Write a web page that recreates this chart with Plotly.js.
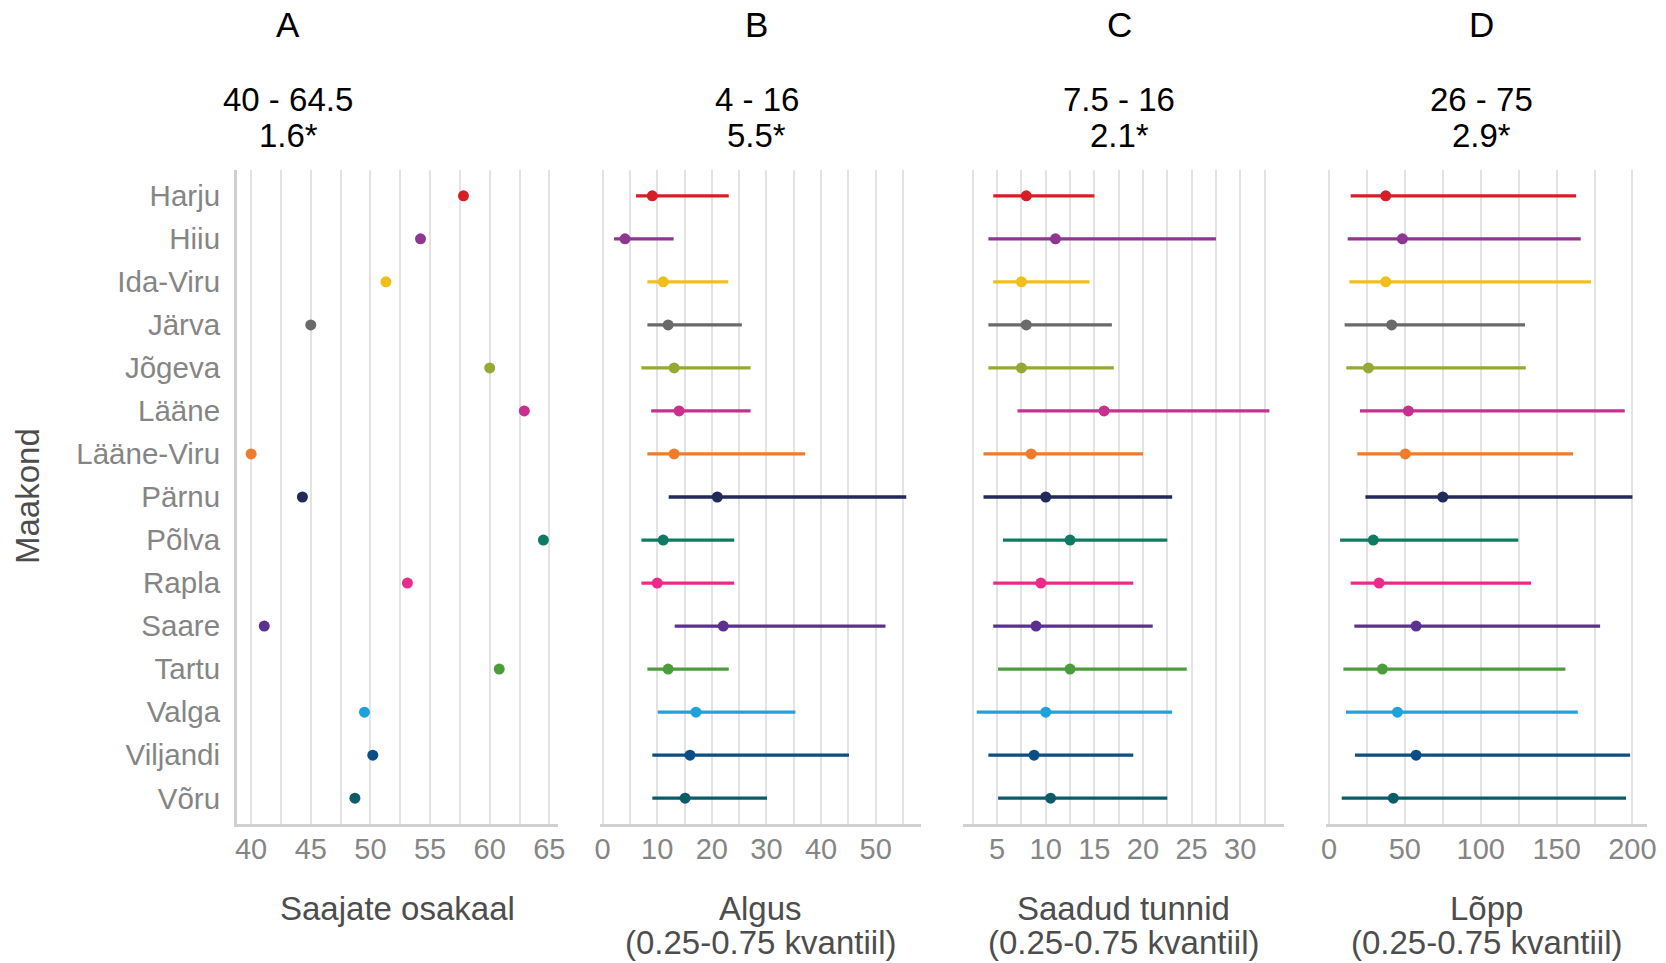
<!DOCTYPE html>
<html><head><meta charset="utf-8">
<script src="https://cdn.plot.ly/plotly-3.0.1.min.js"></script>
<style>html,body{margin:0;padding:0;background:#fff}#chart{width:1666px;height:963px}</style>
</head><body><div id="chart"></div>
<script>
// ---- data ----
const counties = ["Harju","Hiiu","Ida-Viru","Järva","Jõgeva","Lääne","Lääne-Viru","Pärnu","Põlva","Rapla","Saare","Tartu","Valga","Viljandi","Võru"];
const countyColors = ["#d51f26","#8e3690","#f0bf1c","#6a6a6a","#97a935","#c92f8f","#ef7c2c","#222a5b","#0f7a63","#e92c89","#5a3190","#4b9d3c","#1fa1dc","#0b4d85","#0d5a68"];
const shareValue = [57.8,54.2,51.3,45.0,60.0,62.9,40.0,44.3,64.5,53.1,41.1,60.8,49.5,50.2,48.7];
const startMed = [9.1,4.1,11.1,12.0,13.1,14.0,13.1,21.0,11.1,10.0,22.1,12.0,17.1,16.0,15.1];
const startLo  = [6.1,2.1,8.2,8.2,7.1,8.9,8.2,12.1,7.1,7.1,13.2,8.2,10.1,9.1,9.1];
const startHi  = [23.1,13.0,23.0,25.5,27.1,27.1,37.1,55.6,24.1,24.1,51.8,23.1,35.3,45.1,30.1];
const hoursMed = [8.0,11.0,7.5,8.0,7.5,16.0,8.5,10.0,12.5,9.5,9.0,12.5,10.0,8.8,10.5];
const hoursLo  = [4.6,4.1,4.6,4.1,4.1,7.1,3.6,3.6,5.6,4.6,4.6,5.1,2.9,4.1,5.1];
const hoursHi  = [15.0,27.5,14.5,16.8,17.0,33.0,20.0,23.0,22.5,19.0,21.0,24.5,23.0,19.0,22.5];
const endMed = [37.4,48.4,37.4,41.3,26.0,52.3,50.3,75.0,29.2,33.0,57.4,35.2,45.1,57.4,42.4];
const endLo  = [14.3,12.3,13.4,10.3,11.4,20.4,18.7,24.0,7.3,14.3,16.7,9.5,11.2,17.1,8.4];
const endHi  = [162.9,165.9,172.7,129.2,129.7,194.9,160.9,200.0,124.8,133.2,178.7,155.8,164.0,198.5,195.8];

const panelLetters = ["A","B","C","D"];
const panelRanges = ["40 - 64.5","4 - 16","7.5 - 16","26 - 75"];
const panelStats = ["1.6*","5.5*","2.1*","2.9*"];
const axisTitleLine1 = ["Saajate osakaal","Algus","Saadud tunnid","Lõpp"];
const axisTitleLine2 = ["","(0.25-0.75 kvantiil)","(0.25-0.75 kvantiil)","(0.25-0.75 kvantiil)"];
const yTitle = "Maakond";

// ---- layout helpers ----
const W = 1666, H = 963;
const FONT = "Liberation Sans, Arial, sans-serif";
const px = v => v / W;
const py = v => 1 - v / H;
const panelX = [[236.5,558],[599.5,921],[962.5,1284],[1325.5,1647]];
const titleCenters = [288, 756.5, 1119, 1481];
const yDom = [py(824), py(170)];

const traces = [];
// Panel A dots
traces.push({type:"scatter", mode:"markers", x: shareValue, y: counties, xaxis:"x", yaxis:"y",
  marker:{color: countyColors, size: 11}, hoverinfo:"x+y", showlegend:false});
// Range panels
const rangeSets = [[startLo,startMed,startHi,"x2"],[hoursLo,hoursMed,hoursHi,"x3"],[endLo,endMed,endHi,"x4"]];
rangeSets.forEach(([lo,med,hi,xa]) => {
  counties.forEach((c,i) => {
    traces.push({type:"scatter", mode:"lines", x:[lo[i],hi[i]], y:[c,c], xaxis:xa, yaxis:"y",
      line:{color: countyColors[i], width:3.3}, hoverinfo:"x+y", showlegend:false});
  });
  traces.push({type:"scatter", mode:"markers", x: med, y: counties, xaxis:xa, yaxis:"y",
    marker:{color: countyColors, size: 11}, hoverinfo:"x+y", showlegend:false});
});

const gridC = "#e3e3e3", lineC = "#d0d0d0", tickC = "#858585";
function xAxis(i, range, dtick, minor) {
  return {
    domain:[px(panelX[i][0]), px(panelX[i][1])], anchor:"y", range: range,
    tickmode:"linear", tick0:0, dtick: dtick,
    showgrid:true, gridcolor:gridC, gridwidth:2,
    minor:{dtick:minor, tick0:0, showgrid:true, gridcolor:gridC, gridwidth:2, ticks:""},
    showline:true, linecolor:lineC, linewidth:2.5,
    ticks:"", ticklabelstandoff: -2,
    tickfont:{family:FONT, size:29, color:tickC}, zeroline:false, fixedrange:true
  };
}

const annotations = [];
for (let i=0;i<4;i++) {
  annotations.push({xref:"paper", yref:"paper", x:px(titleCenters[i]), y:py(24.5), text:panelLetters[i],
    showarrow:false, xanchor:"center", yanchor:"middle", font:{family:FONT, size:35, color:"#000"}});
  annotations.push({xref:"paper", yref:"paper", x:px(titleCenters[i]), y:py(99.5), text:panelRanges[i],
    showarrow:false, xanchor:"center", yanchor:"middle", font:{family:FONT, size:33, color:"#000"}});
  annotations.push({xref:"paper", yref:"paper", x:px(titleCenters[i]), y:py(135), text:panelStats[i],
    showarrow:false, xanchor:"center", yanchor:"middle", font:{family:FONT, size:33, color:"#000"}});
  const cx = (panelX[i][0]+panelX[i][1])/2;
  annotations.push({xref:"paper", yref:"paper", x:px(cx), y:py(908), text:axisTitleLine1[i],
    showarrow:false, xanchor:"center", yanchor:"middle", font:{family:FONT, size:33, color:"#4d4d4d"}});
  if (axisTitleLine2[i]) annotations.push({xref:"paper", yref:"paper", x:px(cx), y:py(942.5), text:axisTitleLine2[i],
    showarrow:false, xanchor:"center", yanchor:"middle", font:{family:FONT, size:33, color:"#4d4d4d"}});
}
annotations.push({xref:"paper", yref:"paper", x:px(27), y:py(496), text:yTitle, textangle:-90,
  showarrow:false, xanchor:"center", yanchor:"middle", font:{family:FONT, size:33, color:"#4d4d4d"}});

const layout = {
  width:W, height:H, margin:{l:0,r:0,t:0,b:0}, paper_bgcolor:"#fff", plot_bgcolor:"#fff",
  showlegend:false, hovermode:"closest",
  xaxis: xAxis(0, [38.775, 65.725], 5, 2.5),
  xaxis2: xAxis(1, [-0.57, 58.3], 10, 5),
  xaxis3: xAxis(2, [1.44, 34.5], 5, 2.5),
  xaxis4: xAxis(3, [-2.3, 209.6], 50, 25),
  yaxis: {domain: yDom, anchor:"x", type:"category", categoryorder:"array", categoryarray: counties,
    range:[14.6,-0.6], showgrid:false, zeroline:false, showline:true, linecolor:lineC, linewidth:2.5,
    ticks:"", ticklabelstandoff: 8, tickfont:{family:FONT, size:29.5, color:tickC}, fixedrange:true},
  annotations: annotations
};

Plotly.newPlot("chart", traces, layout, {displayModeBar:false, staticPlot:true});
</script></body></html>
